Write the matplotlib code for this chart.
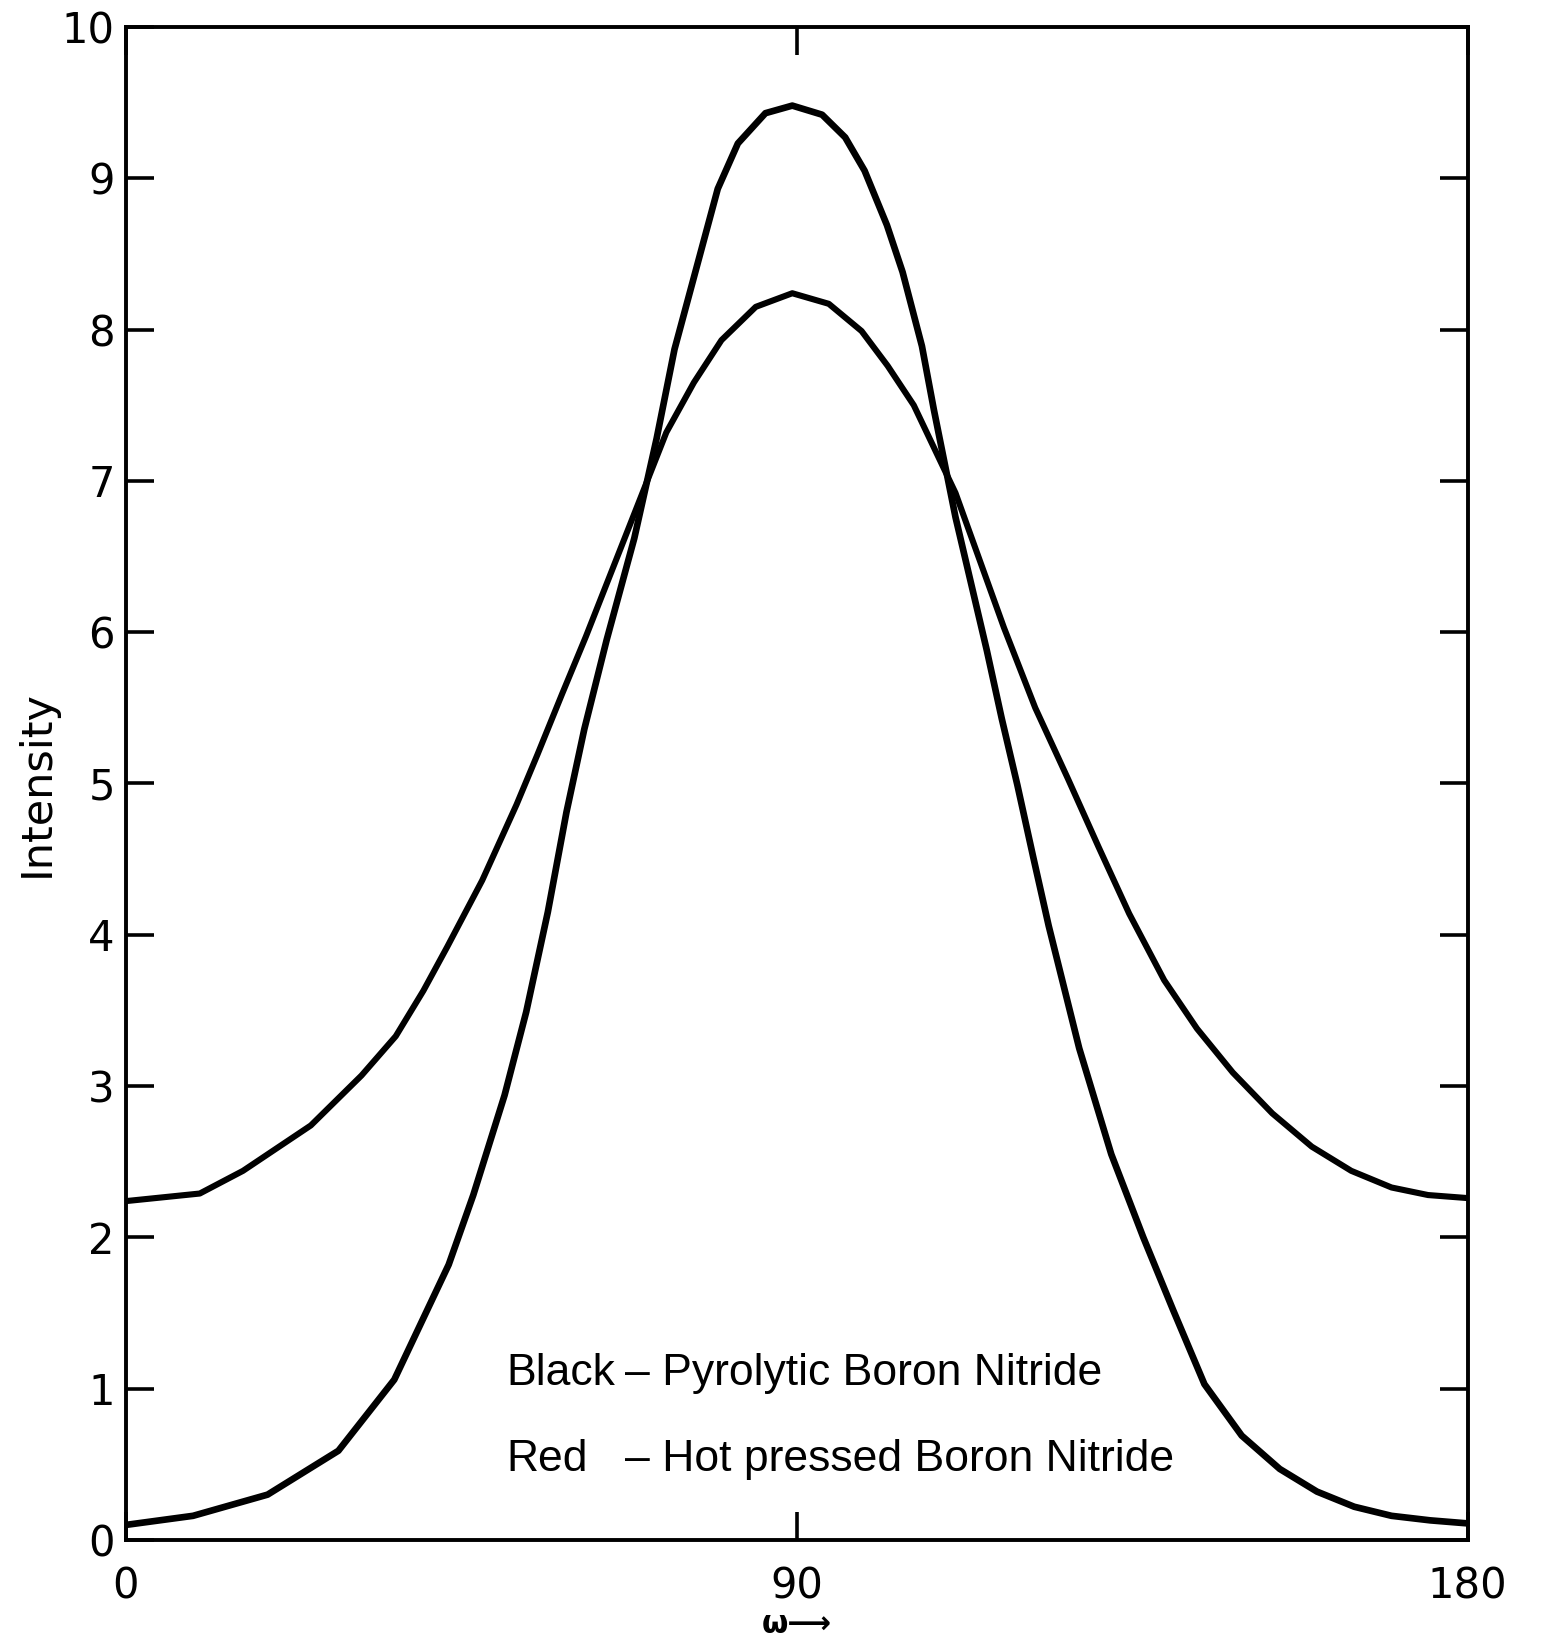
import matplotlib
matplotlib.use("Agg")
import matplotlib.pyplot as plt

# angle omega (degrees) and intensity
pyro_w = [0, 9, 19, 28.5, 36, 43.3, 46.6, 50.8, 53.7, 56.6, 59.1, 61.5, 64.5, 68.2,
          71.2, 73.6, 76.5, 79.4, 82.1, 85.8, 89.4, 93.4, 96.5, 99.1, 102.1, 104.2,
          106.8, 108.4, 111.3, 115.5, 117.5, 119.6, 121.7, 123.8, 127.9, 132.2, 136.5,
          140.5, 144.7, 149.7, 154.8, 159.8, 164.8, 169.8, 175, 180]
pyro_i = [0.10, 0.16, 0.30, 0.59, 1.06, 1.82, 2.28, 2.94, 3.49, 4.15, 4.81, 5.36, 5.95, 6.62,
          7.28, 7.87, 8.40, 8.93, 9.23, 9.43, 9.48, 9.42, 9.27, 9.05, 8.69, 8.38,
          7.89, 7.47, 6.76, 5.88, 5.43, 4.99, 4.52, 4.06, 3.25, 2.55, 2.00,
          1.52, 1.03, 0.69, 0.47, 0.32, 0.22, 0.16, 0.13, 0.11]

hot_w = [0, 9.9, 15.7, 24.8, 31.6, 36.2, 39.9, 43.1, 47.8, 52.4, 55.2, 58.5, 61.7, 65.7,
         72.5, 76.2, 79.9, 84.5, 89.4, 94.3, 98.7, 102.2, 105.7, 111.3, 117.8, 122.0,
         126.4, 130.5, 134.6, 139.3, 143.7, 148.5, 153.8, 159.1, 164.4, 169.8, 174.7, 180]
hot_i = [2.24, 2.29, 2.44, 2.74, 3.07, 3.33, 3.63, 3.92, 4.36, 4.86, 5.19, 5.59, 5.97, 6.47,
         7.32, 7.65, 7.93, 8.15, 8.24, 8.17, 7.99, 7.76, 7.50, 6.92, 6.03, 5.50,
         5.03, 4.58, 4.14, 3.70, 3.38, 3.09, 2.82, 2.60, 2.44, 2.33, 2.28, 2.26]

x_ticks = [0, 90, 180]
y_ticks = list(range(0, 11))

fig = plt.figure(figsize=(15.42, 16.42), dpi=100)
ax = fig.add_axes([0.0817, 0.0621, 0.870, 0.9215])

ax.plot(pyro_w, pyro_i, color="black", lw=4.8, solid_joinstyle="round")
ax.plot(hot_w, hot_i, color="black", lw=4.4, solid_joinstyle="round")

ax.set_xlim(0, 180)
ax.set_ylim(0, 10)
ax.set_xticks(x_ticks)
ax.set_yticks(y_ticks)
ax.set_xticklabels([str(t) for t in x_ticks])
ax.set_yticklabels([str(t) for t in y_ticks])

for s in ax.spines.values():
    s.set_linewidth(2.8)

ax.tick_params(direction="in", top=True, right=True, length=20, width=2.6,
               labelsize=30)
ax.tick_params(axis="x", pad=18)
ax.tick_params(axis="y", pad=8)

ax.set_ylabel("Intensity", fontsize=31, labelpad=3)
ax.set_xlabel("\u03c9\u27f6", fontsize=22, fontweight="bold", labelpad=2)

legend_font = ["Liberation Sans", "DejaVu Sans"]
ax.text(51, 1.1, "Black", fontsize=32, family=legend_font, va="center")
ax.text(66.9, 1.1, "\u2013 Pyrolytic Boron Nitride", fontsize=32, family=legend_font, va="center")
ax.text(51, 0.53, "Red", fontsize=32, family=legend_font, va="center")
ax.text(66.9, 0.53, "\u2013 Hot pressed Boron Nitride", fontsize=32, family=legend_font, va="center")

fig.savefig("out.png", dpi=100)
